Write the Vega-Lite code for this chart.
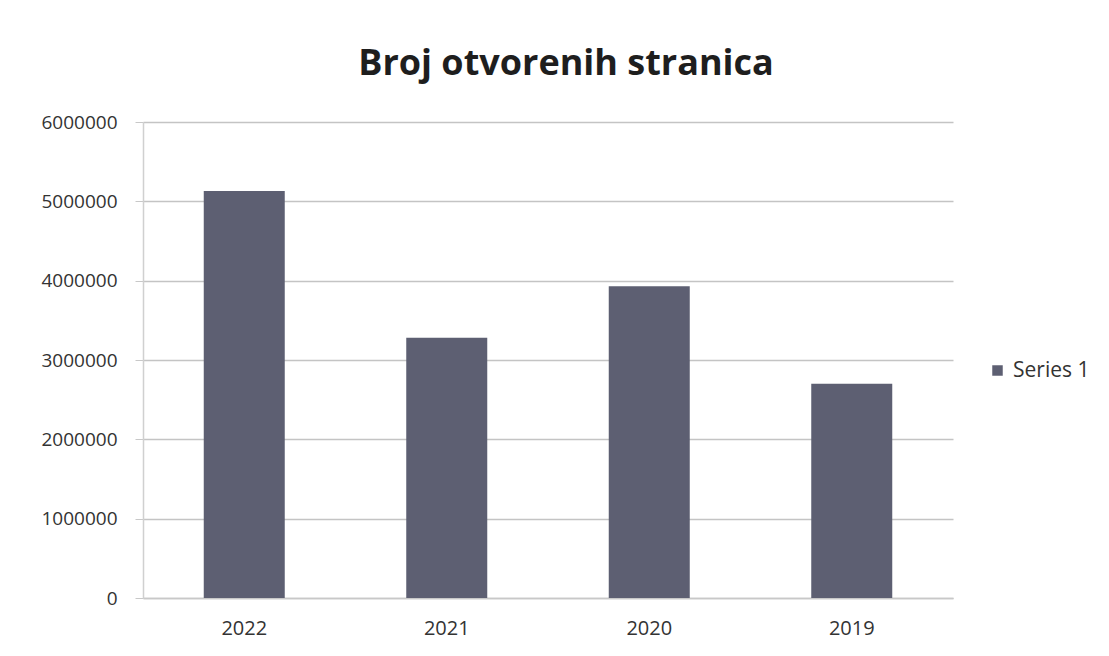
{
  "$schema": "https://vega.github.io/schema/vega-lite/v6.json",
  "autosize": {"type": "none"},
  "width": 810,
  "height": 476,
  "padding": {"left": 143, "top": 122, "right": 156, "bottom": 58},
  "background": "#ffffff",
  "title": {
    "text": "Broj otvorenih stranica",
    "font": "Open Sans",
    "fontSize": 36,
    "fontWeight": "bold",
    "color": "#1e1e1e",
    "anchor": "middle",
    "dx": 18,
    "offset": 30
  },
  "data": {
    "values": [
      {"year": "2022", "value": 5130000},
      {"year": "2021", "value": 3280000},
      {"year": "2020", "value": 3930000},
      {"year": "2019", "value": 2700000}
    ]
  },
  "mark": {"type": "bar", "opacity": 1},
  "encoding": {
    "x": {
      "field": "year",
      "type": "nominal",
      "sort": null,
      "scale": {"paddingInner": 0.6, "paddingOuter": 0.3},
      "axis": {
        "title": null,
        "labelAngle": 0,
        "labelFont": "Open Sans",
        "labelFontSize": 20,
        "labelColor": "#333333",
        "labelPadding": 20,
        "ticks": false,
        "domainColor": "#c8c8c8",
        "domainWidth": 1.5,
        "grid": false
      }
    },
    "y": {
      "field": "value",
      "type": "quantitative",
      "scale": {"domain": [0, 6000000], "nice": false},
      "axis": {
        "title": null,
        "values": [0, 1000000, 2000000, 3000000, 4000000, 5000000, 6000000],
        "format": "d",
        "labelFont": "Open Sans",
        "labelFontSize": 19,
        "labelColor": "#333333",
        "labelPadding": 18,
        "tickSize": 8,
        "tickColor": "#c8c8c8",
        "domainColor": "#d0d0d0",
        "domainWidth": 1.5,
        "gridColor": "#c4c4c4",
        "gridWidth": 1.5
      }
    },
    "color": {
      "datum": "Series 1",
      "scale": {"range": ["#5d5f72"]},
      "legend": {
        "title": null,
        "orient": "none",
        "legendX": 844,
        "legendY": 238,
        "symbolType": "square",
        "symbolSize": 110,
        "labelFont": "Open Sans",
        "labelFontSize": 21,
        "labelColor": "#333333",
        "labelOffset": 5
      }
    }
  },
  "config": {"view": {"stroke": null}}
}
